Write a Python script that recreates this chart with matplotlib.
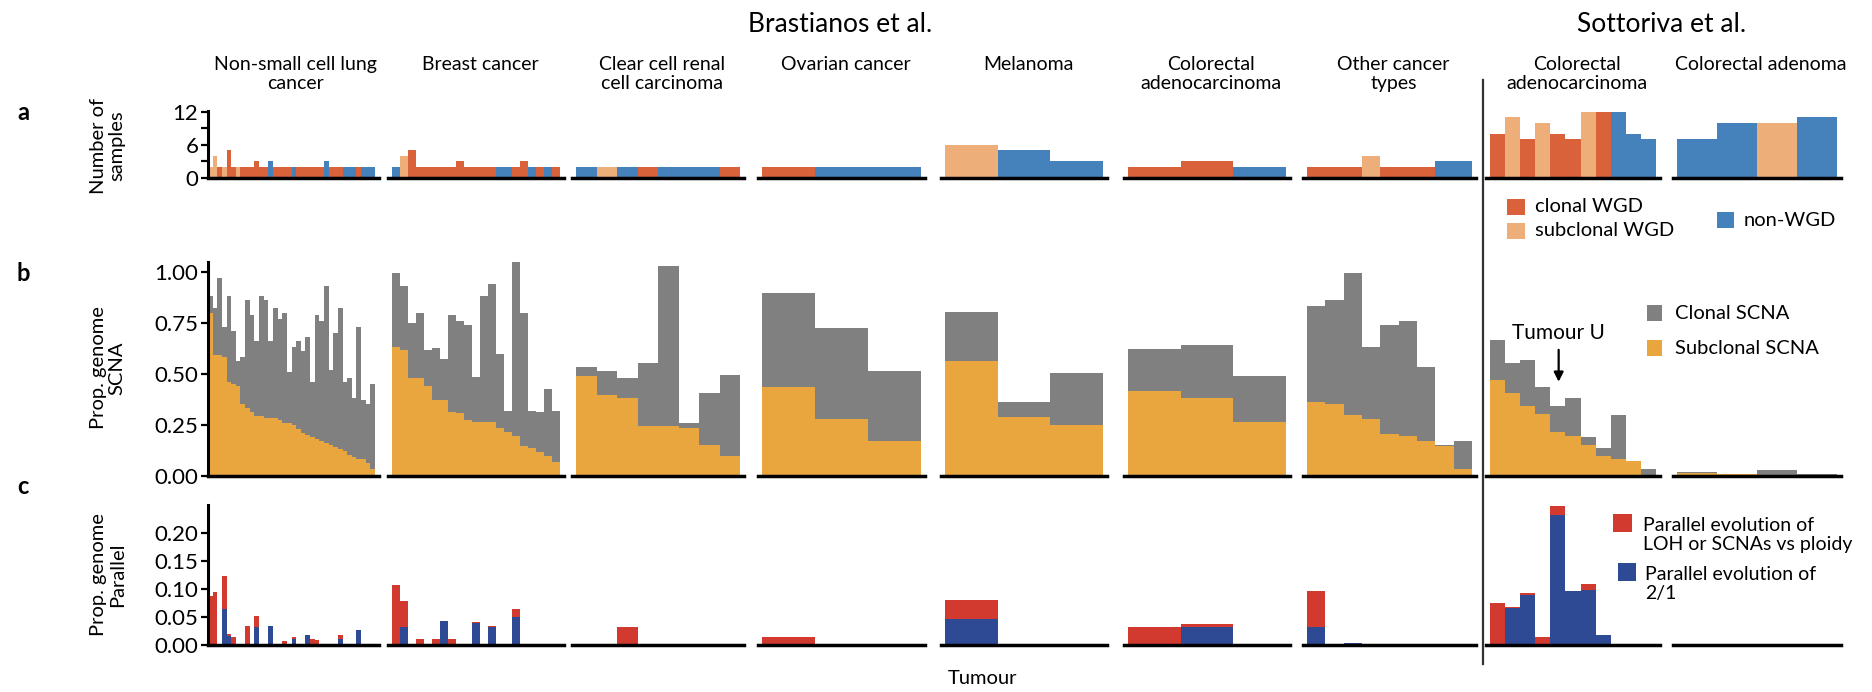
import numpy as np
import matplotlib.pyplot as plt
from matplotlib.patches import Rectangle

plt.rcParams['font.family'] = ['Lato', 'DejaVu Sans']

# ---- data (per tumour) ----
# status: C = clonal WGD, S = subclonal WGD, N = non-WGD
nsclc_samples = [2, 4, 2, 2, 5, 2, 2, 2, 2, 2, 3, 2, 2, 3, 2, 2, 2, 2, 2, 2, 2, 2, 2, 2, 2, 3, 2, 2, 2, 2, 2, 2, 2, 2, 2, 2]
nsclc_wgd = list('SSCSCCSCCCCCCNCCCCNCCCCCCNCCCNNNCNNN')
nsclc_total = [0.88, 0.82, 0.97, 0.73, 0.88, 0.71, 0.56, 0.58, 0.86, 0.79, 0.66, 0.88, 0.86, 0.66, 0.82, 0.77, 0.80, 0.51,
               0.63, 0.66, 0.61, 0.68, 0.46, 0.79, 0.76, 0.93, 0.52, 0.70, 0.82, 0.46, 0.48, 0.38, 0.73, 0.37, 0.35, 0.45]
nsclc_subclonal = [0.80, 0.59, 0.59, 0.58, 0.46, 0.45, 0.44, 0.35, 0.33, 0.31, 0.29, 0.29, 0.28, 0.28, 0.28, 0.27, 0.26, 0.26,
                   0.25, 0.23, 0.21, 0.20, 0.19, 0.18, 0.17, 0.16, 0.15, 0.14, 0.13, 0.12, 0.10, 0.09, 0.08, 0.08, 0.06, 0.03]
nsclc_parallel = [0.087, 0.095, 0, 0.123, 0.02, 0.015, 0, 0, 0.035, 0, 0.052, 0, 0, 0.035, 0, 0, 0.008, 0,
                  0.015, 0, 0, 0.018, 0.012, 0.01, 0, 0, 0, 0, 0.018, 0, 0, 0, 0.027, 0, 0, 0]
nsclc_par21 = [0, 0, 0, 0.064, 0.017, 0, 0, 0, 0, 0, 0.033, 0, 0, 0.035, 0, 0, 0, 0,
               0.012, 0, 0, 0.018, 0, 0, 0, 0, 0, 0, 0.012, 0, 0, 0, 0.027, 0, 0, 0]

breast_samples = [2, 4, 5, 2, 2, 2, 2, 2, 3, 2, 2, 2, 2, 2, 2, 2, 3, 2, 2, 2, 2]
breast_wgd = list('NSCCCCCCCCCCCNNCCNCNC')
breast_total = [0.995, 0.93, 0.75, 0.80, 0.615, 0.625, 0.57, 0.79, 0.76, 0.74, 0.485, 0.88, 0.94, 0.595, 0.315,
                1.05, 0.80, 0.315, 0.31, 0.425, 0.315]
breast_subclonal = [0.632, 0.614, 0.479, 0.479, 0.441, 0.37, 0.37, 0.314, 0.305, 0.271, 0.263, 0.263, 0.263, 0.232,
                    0.214, 0.196, 0.143, 0.134, 0.116, 0.098, 0.068]
breast_parallel = [0.108, 0.079, 0, 0.011, 0, 0.011, 0.043, 0.011, 0, 0, 0.041, 0, 0.035, 0, 0, 0.064, 0, 0, 0, 0, 0]
breast_par21 = [0, 0.032, 0, 0, 0, 0, 0.043, 0, 0, 0, 0.040, 0, 0.032, 0, 0, 0.050, 0, 0, 0, 0, 0]

ccrcc_samples = [2, 2, 2, 2, 2, 2, 2, 2]
ccrcc_wgd = list('NSNCNNNC')
ccrcc_total = [0.532, 0.514, 0.477, 0.55, 1.03, 0.26, 0.405, 0.495]
ccrcc_subclonal = [0.486, 0.396, 0.379, 0.241, 0.241, 0.232, 0.15, 0.096]
ccrcc_parallel = [0, 0, 0.032, 0, 0, 0, 0, 0]
ccrcc_par21 = [0, 0, 0, 0, 0, 0, 0, 0]

ovarian_samples = [2, 2, 2]
ovarian_wgd = list('CNN')
ovarian_total = [0.896, 0.723, 0.514]
ovarian_subclonal = [0.432, 0.277, 0.168]
ovarian_parallel = [0.0155, 0, 0]
ovarian_par21 = [0, 0, 0]

melanoma_samples = [6, 5, 3]
melanoma_wgd = list('SNN')
melanoma_total = [0.804, 0.361, 0.505]
melanoma_subclonal = [0.561, 0.286, 0.25]
melanoma_parallel = [0.081, 0, 0]
melanoma_par21 = [0.047, 0, 0]

crc_samples = [2, 3, 2]
crc_wgd = list('CCN')
crc_total = [0.621, 0.639, 0.486]
crc_subclonal = [0.414, 0.379, 0.261]
crc_parallel = [0.032, 0.038, 0]
crc_par21 = [0, 0.032, 0]

other_samples = [2, 2, 2, 4, 2, 2, 2, 3, 3]
other_wgd = list('CCCSCCCNN')
other_total = [0.83, 0.861, 0.995, 0.632, 0.741, 0.759, 0.532, 0.152, 0.168]
other_subclonal = [0.361, 0.35, 0.296, 0.277, 0.205, 0.196, 0.168, 0.143, 0.032]
other_parallel = [0.096, 0, 0.0045, 0, 0, 0, 0, 0, 0]
other_par21 = [0.032, 0, 0.0045, 0, 0, 0, 0, 0, 0]

sott_crc_samples = [8, 11, 7, 10, 8, 7, 12, 12, 12, 8, 7]
sott_crc_wgd = list('CSCSCCSCNNN')
sott_crc_total = [0.664, 0.55, 0.568, 0.432, 0.339, 0.379, 0.188, 0.134, 0.295, 0.071, 0.032]
sott_crc_subclonal = [0.468, 0.405, 0.343, 0.304, 0.214, 0.196, 0.152, 0.098, 0.080, 0.071, 0.0]
sott_crc_parallel = [0.075, 0.068, 0.094, 0.0155, 0.249, 0.097, 0.110, 0.0175, 0, 0.003, 0]
sott_crc_par21 = [0, 0.066, 0.089, 0, 0.232, 0.097, 0.098, 0.0175, 0, 0, 0]

adenoma_samples = [7, 10, 10, 11]
adenoma_wgd = list('NNSN')
adenoma_total = [0.016, 0.009, 0.025, 0.006]
adenoma_subclonal = [0.014, 0.007, 0.003, 0.002]
adenoma_parallel = [0, 0, 0, 0]
adenoma_par21 = [0, 0, 0, 0]

titles = ['Non-small cell lung\ncancer', 'Breast cancer', 'Clear cell renal\ncell carcinoma', 'Ovarian cancer',
          'Melanoma', 'Colorectal\nadenocarcinoma', 'Other cancer\ntypes', 'Colorectal\nadenocarcinoma',
          'Colorectal adenoma']

groups = [
    (nsclc_samples, nsclc_wgd, nsclc_total, nsclc_subclonal, nsclc_parallel, nsclc_par21),
    (breast_samples, breast_wgd, breast_total, breast_subclonal, breast_parallel, breast_par21),
    (ccrcc_samples, ccrcc_wgd, ccrcc_total, ccrcc_subclonal, ccrcc_parallel, ccrcc_par21),
    (ovarian_samples, ovarian_wgd, ovarian_total, ovarian_subclonal, ovarian_parallel, ovarian_par21),
    (melanoma_samples, melanoma_wgd, melanoma_total, melanoma_subclonal, melanoma_parallel, melanoma_par21),
    (crc_samples, crc_wgd, crc_total, crc_subclonal, crc_parallel, crc_par21),
    (other_samples, other_wgd, other_total, other_subclonal, other_parallel, other_par21),
    (sott_crc_samples, sott_crc_wgd, sott_crc_total, sott_crc_subclonal, sott_crc_parallel, sott_crc_par21),
    (adenoma_samples, adenoma_wgd, adenoma_total, adenoma_subclonal, adenoma_parallel, adenoma_par21),
]

# colours
wgd_colors = {'C': '#D9623B', 'S': '#EDAE7A', 'N': '#4581BA'}
grey = '#808080'
orange = '#E9A53E'
red = '#D33A2F'
navy = '#2F4A95'

# ---- layout in pixels ----
W, H = 1872, 692
col_x = [(208, 375), (392, 560), (576, 740), (762, 921), (945, 1103),
         (1128, 1286), (1307, 1472), (1490, 1656), (1677, 1837)]
# (top, bottom) pixel and ylim per row
rows = [(110.7, 178.0, 12.2), (261.6, 475.5, 1.05), (505.0, 645.3, 0.25)]

fig = plt.figure(figsize=(W / 100, H / 100), dpi=100)


def fx(x):
    return x / W


def fy(y):
    return 1 - y / H


pad = 4
for gi, (samples, wgd, total, subcl, par, par21) in enumerate(groups):
    n = len(samples)
    x0, x1 = col_x[gi]
    ppb = (x1 - x0) / n
    left_px = x0 if gi == 0 else x0 - pad
    xs = np.arange(n)
    axes = []
    for ri, (top, bot, ymax) in enumerate(rows):
        ax = fig.add_axes([fx(left_px), fy(bot), (x1 + pad - left_px) / W, (bot - top) / H])
        ax.set_xlim(-(x0 - left_px) / ppb, n + pad / ppb)
        ax.set_ylim(0, ymax)
        for s in ['top', 'right']:
            ax.spines[s].set_visible(False)
        ax.spines['bottom'].set_linewidth(2.5)
        ax.set_xticks([])
        if gi == 0:
            ax.spines['left'].set_linewidth(2.2)
            ax.tick_params(axis='y', length=5, width=1.6, labelsize=16, pad=2)
        else:
            ax.spines['left'].set_visible(False)
            ax.set_yticks([])
        ax.patch.set_alpha(0)
        axes.append(ax)

    ax_a, ax_b, ax_c = axes
    ax_a.bar(xs, samples, width=1, align='edge', color=[wgd_colors[w] for w in wgd], linewidth=0)
    ax_b.bar(xs, total, width=1, align='edge', color=grey, linewidth=0)
    ax_b.bar(xs, subcl, width=1, align='edge', color=orange, linewidth=0)
    ax_c.bar(xs, par, width=1, align='edge', color=red, linewidth=0)
    ax_c.bar(xs, par21, width=1, align='edge', color=navy, linewidth=0)

    if gi == 0:
        ax_a.set_yticks([0, 3, 6, 9, 12])
        ax_a.set_yticklabels(['0', '', '6', '', '12'])
        ax_b.set_yticks([0, 0.25, 0.5, 0.75, 1.0])
        ax_b.set_yticklabels(['0.00', '0.25', '0.50', '0.75', '1.00'])
        ax_c.set_yticks([0, 0.05, 0.10, 0.15, 0.20])
        ax_c.set_yticklabels(['0.00', '0.05', '0.10', '0.15', '0.20'])
    if gi == 7:
        ax_b.annotate('Tumour U', xy=(4.55, 0.46), xytext=(4.55, 0.70), ha='center', va='center', fontsize=15,
                      arrowprops=dict(arrowstyle='-|>', color='black', lw=1.6, mutation_scale=14,
                                      shrinkA=3, shrinkB=0))

    fig.text(fx((x0 + x1) / 2 + 4), fy(56), titles[gi], ha='center', va='top', fontsize=14, linespacing=1.15)

# headers
fig.text(fx(840), fy(25), 'Brastianos et al.', ha='center', va='center', fontsize=19)
fig.text(fx(1662), fy(25), 'Sottoriva et al.', ha='center', va='center', fontsize=19)

# panel letters
for letter, y in [('a', 113), ('b', 274), ('c', 486)]:
    fig.text(fx(17), fy(y), letter, ha='left', va='center', fontsize=17, fontweight='bold')

# y labels
fig.text(fx(108), fy(146), 'Number of\nsamples', rotation=90, ha='center', va='center', fontsize=14.5,
         linespacing=1.1)
fig.text(fx(108), fy(368), 'Prop. genome\nSCNA', rotation=90, ha='center', va='center', fontsize=14.5,
         linespacing=1.1)
fig.text(fx(108), fy(575), 'Prop. genome\nParallel', rotation=90, ha='center', va='center', fontsize=14.5,
         linespacing=1.1)
fig.text(fx(983), fy(678), 'Tumour', ha='center', va='center', fontsize=14.5)

# separator line
fig.add_artist(plt.Line2D([fx(1483), fx(1483)], [fy(80), fy(664)], color='#333333', lw=1.6))


def legend_box(x, y, w, h, color, label, tx, ty, size=14.5):
    fig.add_artist(Rectangle((fx(x), fy(y + h)), w / W, h / H, transform=fig.transFigure, color=color, lw=0))
    fig.text(fx(tx), fy(ty), label, ha='left', va='center', fontsize=size, linespacing=1.15)


legend_box(1507, 199, 18, 16, wgd_colors['C'], 'clonal WGD', 1535, 207)
legend_box(1507, 223, 18, 16, wgd_colors['S'], 'subclonal WGD', 1535, 231)
legend_box(1717, 212, 17, 16, wgd_colors['N'], 'non-WGD', 1744, 220)
legend_box(1647, 305, 15, 16, grey, 'Clonal SCNA', 1675, 313)
legend_box(1647, 340, 15, 16, orange, 'Subclonal SCNA', 1675, 349)
legend_box(1613, 514, 19, 18, red, 'Parallel evolution of\nLOH or SCNAs vs ploidy', 1643, 535, size=14)
legend_box(1618, 563, 18, 18, navy, 'Parallel evolution of\n2/1', 1645, 584, size=14)

fig.savefig('out.png', dpi=100)
